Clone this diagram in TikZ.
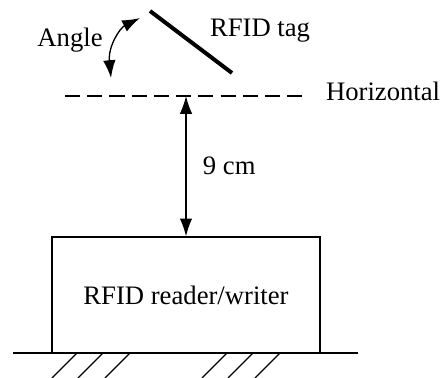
\documentclass[tikz,border=0pt]{standalone}
\usepackage{fontspec}
\setmainfont{Liberation Serif}
\usetikzlibrary{arrows.meta}

\begin{document}
\begin{tikzpicture}[x=0.45pt,y=-0.45pt,
    >={Latex[length=8pt,width=5.6pt]},
    line width=0.6pt,
    font=\fontsize{12}{14}\selectfont]

    \useasboundingbox (0,0) rectangle (443,378);

    %% Tag setup

    % Tag and its angle
    \coordinate (T1) at (150,11);
    \coordinate (T2) at (232,73);
    \draw[line width=1.8pt] (T1) -- (T2);
    \node (tag) at (260,31) {RFID tag};
    \coordinate (A1) at (111,78);
    \coordinate (A2) at (140,18);
    \draw[<->] (A1) .. controls (108,46) and (120,28) .. (A2);
    \node (angle) at (70,40) {Angle};

    % Horizontal reference
    \coordinate (H1) at (65,96);
    \coordinate (H2) at (306,96);
    \draw[dash pattern=on 6.8pt off 3.2pt] (H1) -- (H2);
    \node[anchor=west] (horiz) at (318,91) {Horizontal};

    %% Reader on the ground

    \node[draw, minimum width=120.6pt, minimum height=52.2pt] (reader)
        at (186,295) {RFID reader/writer};
    \coordinate (G1) at (13,353);
    \coordinate (G2) at (358,353);
    \draw (G1) -- (G2);
    \foreach \x in {77,103,130,227,253,280}
        \draw (\x,353) -- ++(-25,25);

    % Distance
    \coordinate (D) at (186,96);
    \draw[<->] (D) -- (reader.north) node[midway, right=4pt] {9 cm};

\end{tikzpicture}
\end{document}
